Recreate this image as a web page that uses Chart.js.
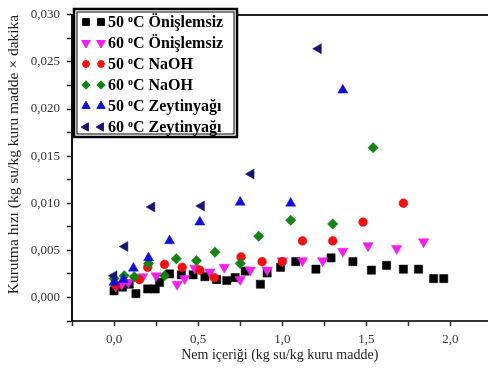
<!DOCTYPE html>
<html>
<head>
<meta charset="utf-8">
<script src="https://cdn.jsdelivr.net/npm/chart.js@4/dist/chart.umd.min.js"></script>
<style>
  html, body { margin: 0; padding: 0; background: #fff; }
  #wrap { width: 494px; height: 370px; position: relative; }
</style>
</head>
<body>
<div id="wrap"><canvas id="drying"></canvas></div>
<script>
// series names (legend)
var seriesNames = ["50 ºC Önişlemsiz", "60 ºC Önişlemsiz", "50 ºC NaOH", "60 ºC NaOH", "50 ºC Zeytinyağı", "60 ºC Zeytinyağı"];

// nem içeriği (x) / kurutma hızı (y)
var xOnislem50 = [0.00, 0.05, 0.09, 0.13, 0.20, 0.245, 0.27, 0.33, 0.40, 0.47, 0.54, 0.61, 0.67, 0.72, 0.78, 0.87, 0.91, 0.99, 1.08, 1.20, 1.29, 1.42, 1.53, 1.62, 1.72, 1.81, 1.90, 1.96];
var yOnislem50 = [0.0007, 0.0011, 0.0014, 0.0004, 0.0009, 0.0009, 0.0016, 0.0025, 0.0024, 0.0024, 0.0022, 0.0019, 0.0018, 0.0021, 0.0028, 0.0014, 0.0026, 0.0032, 0.0038, 0.0030, 0.0042, 0.0038, 0.0029, 0.0034, 0.0030, 0.0030, 0.0020, 0.0020];

var xOnislem60 = [0.01, 0.045, 0.085, 0.17, 0.25, 0.375, 0.42, 0.48, 0.57, 0.655, 0.75, 0.81, 0.91, 1.00, 1.12, 1.24, 1.36, 1.51, 1.68, 1.84];
var yOnislem60 = [0.0012, 0.0014, 0.0016, 0.0022, 0.0023, 0.0014, 0.0020, 0.0031, 0.0027, 0.0032, 0.0019, 0.0029, 0.0029, 0.0039, 0.0039, 0.0039, 0.0049, 0.0055, 0.0052, 0.0059];

var xNaoh50 = [0.01, 0.15, 0.20, 0.30, 0.405, 0.51, 0.595, 0.755, 0.88, 1.00, 1.12, 1.30, 1.48, 1.72];
var yNaoh50 = [0.0013, 0.0019, 0.0032, 0.0035, 0.0032, 0.0029, 0.0021, 0.0043, 0.0038, 0.0038, 0.0060, 0.0060, 0.0080, 0.0100];

var xNaoh60 = [0.00, 0.06, 0.12, 0.205, 0.30, 0.37, 0.49, 0.60, 0.75, 0.86, 1.05, 1.30, 1.54];
var yNaoh60 = [0.0020, 0.0023, 0.0022, 0.0036, 0.0023, 0.0041, 0.0039, 0.0048, 0.0036, 0.0065, 0.0082, 0.0078, 0.0159];

var xZeytin50 = [0.00, 0.055, 0.115, 0.205, 0.33, 0.51, 0.75, 1.05, 1.36];
var yZeytin50 = [0.0016, 0.0019, 0.0031, 0.0042, 0.0060, 0.0080, 0.0101, 0.0100, 0.0220];

var xZeytin60 = [0.00, 0.065, 0.225, 0.52, 0.815, 1.215];
var yZeytin60 = [0.0023, 0.0054, 0.0096, 0.0097, 0.0131, 0.0264];

function toPoints(xs, ys) {
    var pts = [];
    for (var i = 0; i < xs.length; i++) {
        pts.push({x: xs[i], y: ys[i]});
    }
    return pts;
}

var markers = [
    {color: "#000000", style: "rect", radius: 5.8, rotation: 0},
    {color: "#f01ef0", style: "triangle", radius: 6, rotation: 180},
    {color: "#f01010", style: "circle", radius: 4.4, rotation: 0},
    {color: "#148214", style: "rectRot", radius: 5.2, rotation: 0},
    {color: "#1010d8", style: "triangle", radius: 5.8, rotation: 0},
    {color: "#16166e", style: "triangle", radius: 5.8, rotation: 270}
];

var allX = [xOnislem50, xOnislem60, xNaoh50, xNaoh60, xZeytin50, xZeytin60];
var allY = [yOnislem50, yOnislem60, yNaoh50, yNaoh60, yZeytin50, yZeytin60];

var datasets = [];
for (var s = 0; s < seriesNames.length; s++) {
    datasets.push({
        label: seriesNames[s],
        data: toPoints(allX[s], allY[s]),
        showLine: false,
        pointStyle: markers[s].style,
        pointRotation: markers[s].rotation,
        pointRadius: markers[s].radius,
        pointHoverRadius: markers[s].radius,
        pointBackgroundColor: markers[s].color,
        pointBorderColor: markers[s].color,
        pointBorderWidth: 0.5,
        order: 6 - s   // later series drawn on top
    });
}

// boxed legend with two symbols per row, Origin style
var boxLegend = {
    id: "boxLegend",
    afterDraw: function (chart) {
        var ctx = chart.ctx;
        var left = 74, top = 9, w = 163, h = 128;
        ctx.save();
        ctx.fillStyle = "#fff";
        ctx.fillRect(left, top, w, h);
        ctx.strokeStyle = "#000";
        ctx.lineWidth = 2.5;
        ctx.strokeRect(left, top, w, h);
        ctx.lineWidth = 1;
        ctx.strokeRect(left + 3, top + 3, w - 6, h - 6);
        for (var i = 0; i < seriesNames.length; i++) {
            var cy = 22 + i * 21;
            var m = markers[i];
            ctx.fillStyle = m.color;
            ctx.strokeStyle = m.color;
            var opt = {pointStyle: m.style, radius: m.radius - 1, rotation: m.rotation, borderWidth: 0.5};
            Chart.helpers.drawPoint(ctx, opt, 86, cy);
            Chart.helpers.drawPoint(ctx, opt, 101, cy);
            // label with a raised "o" before C
            var parts = seriesNames[i].split("º");
            var tx = 108;
            ctx.fillStyle = "#000";
            ctx.textBaseline = "middle";
            ctx.textAlign = "left";
            ctx.font = "bold 16px 'Liberation Serif'";
            ctx.fillText(parts[0], tx, cy + 1);
            tx += ctx.measureText(parts[0]).width;
            ctx.font = "bold 10px 'Liberation Serif'";
            ctx.fillText("o", tx, cy - 3);
            tx += ctx.measureText("o").width;
            ctx.font = "bold 16px 'Liberation Serif'";
            ctx.fillText(parts[1], tx, cy + 1);
        }
        ctx.restore();
    }
};

function commaFmt(v, digits) {
    return v.toFixed(digits).replace(".", ",");
}

var ctxEl = document.getElementById("drying");
var dryingChart = new Chart(ctxEl, {
    type: "scatter",
    data: {datasets: datasets},
    options: {
        responsive: true,
        maintainAspectRatio: false,
        animation: false,
        layout: {padding: {top: 7, right: 0, left: 0, bottom: 0}},
        plugins: {
            legend: {display: false},
            tooltip: {enabled: false}
        },
        scales: {
            x: {
                type: "linear",
                min: -0.25,
                max: 2.22,
                afterFit: function (scale) { scale.height = 49; },
                ticks: {
                    stepSize: 0.25,
                    includeBounds: false,
                    autoSkip: false,
                    maxRotation: 0,
                    padding: 6,
                    color: "#333",
                    font: {family: "'Liberation Serif'", size: 13},
                    callback: function (v) {
                        var r = Math.round(v * 100) / 100;
                        if (Math.abs(r / 0.5 - Math.round(r / 0.5)) < 1e-6 && r >= 0) {
                            return commaFmt(r, 1);
                        }
                        return "";
                    }
                },
                grid: {drawOnChartArea: false, drawTicks: true, tickLength: 5, tickColor: "#333", tickWidth: 1.5},
                border: {display: true, color: "#333", width: 2},
                title: {
                    display: true,
                    text: "Nem içeriği (kg su/kg kuru madde)",
                    color: "#222",
                    font: {family: "'Liberation Serif'", size: 14},
                    padding: {top: 0, bottom: 6}
                }
            },
            x2: {
                type: "linear",
                position: "top",
                min: -0.25,
                max: 2.22,
                afterFit: function (scale) { scale.height = 0; },
                ticks: {display: false},
                grid: {drawOnChartArea: false, drawTicks: false},
                border: {display: true, color: "#222", width: 2}
            },
            y: {
                type: "linear",
                min: -0.0025,
                max: 0.030,
                afterFit: function (scale) { scale.width = 72; },
                ticks: {
                    stepSize: 0.0025,
                    includeBounds: false,
                    autoSkip: false,
                    padding: 7,
                    color: "#333",
                    font: {family: "'Liberation Serif'", size: 13},
                    callback: function (v) {
                        var k = Math.round(v / 0.0025);
                        if (k >= 0 && k % 2 === 0) {
                            return commaFmt(k * 0.0025, 3);
                        }
                        return "";
                    }
                },
                grid: {drawOnChartArea: false, drawTicks: true, tickLength: 5, tickColor: "#222", tickWidth: 1.5},
                border: {display: true, color: "#111", width: 2},
                title: {
                    display: true,
                    align: "end",
                    text: "Kurutma hızı (kg su/kg kuru madde × dakika",
                    color: "#222",
                    font: {family: "'Liberation Serif'", size: 15.5},
                    padding: {top: 5, bottom: 0}
                }
            }
        }
    },
    plugins: [boxLegend]
});
</script>
</body>
</html>
